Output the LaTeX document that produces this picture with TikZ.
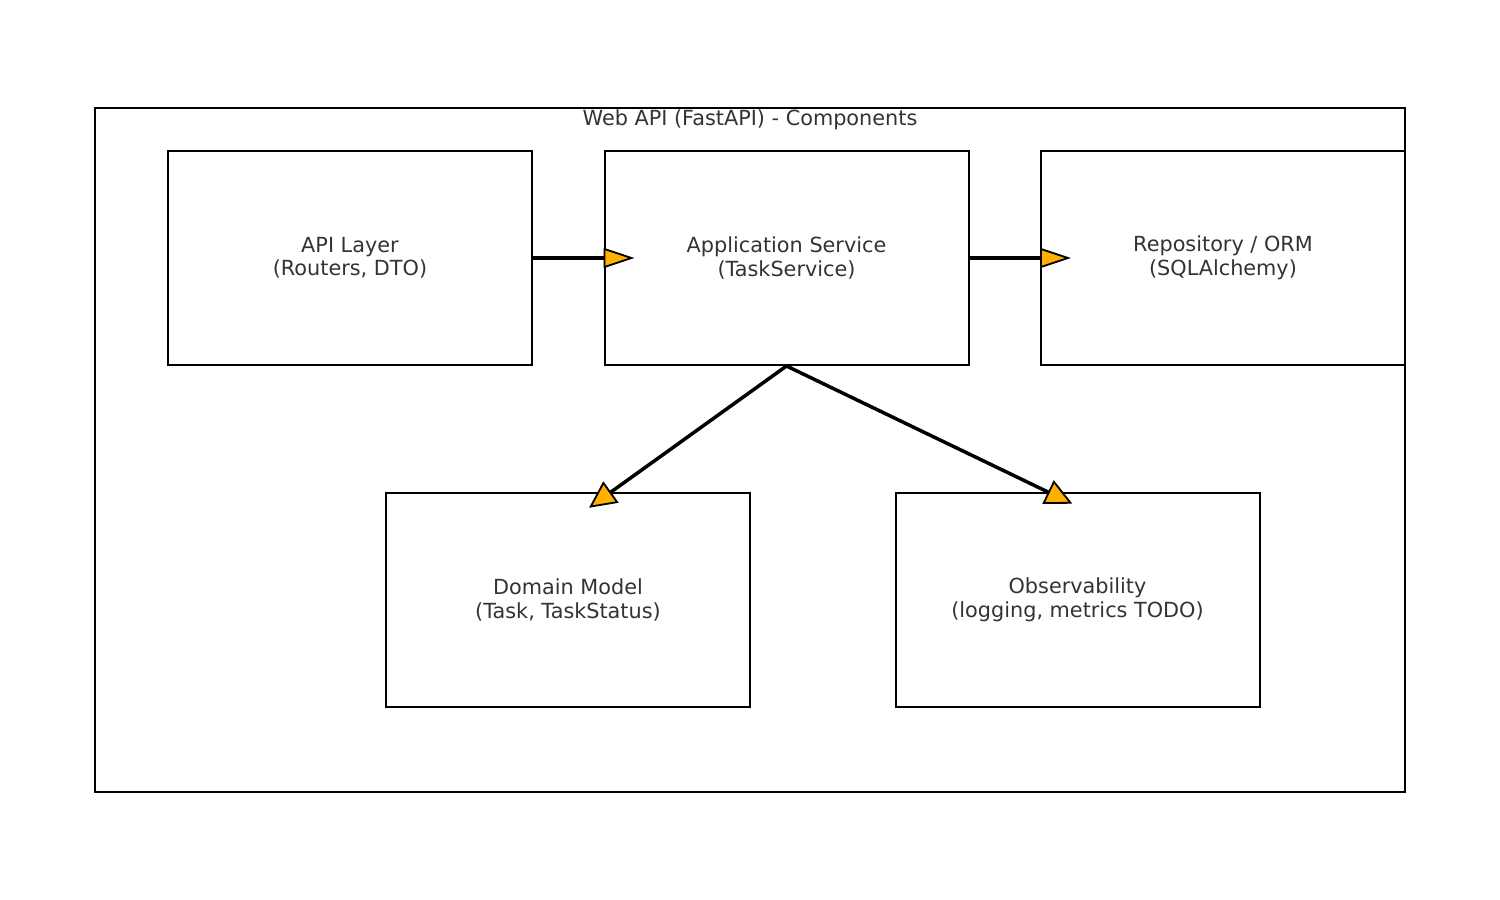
\documentclass[tikz,border=0pt]{standalone}
\usepackage{fontspec}
\setmainfont{DejaVu Sans}
\usetikzlibrary{arrows.meta,calc}
\definecolor{txt}{HTML}{333333}
\definecolor{headfill}{HTML}{FFB000}
\tikzset{
  comp/.style={draw=black, line width=2pt, minimum width=364pt, minimum height=214pt, inner sep=0pt, align=center, text=txt, font=\fontsize{20.8}{23.5}\selectfont},
  frame/.style={draw=black, line width=2pt, minimum width=1310pt, minimum height=684pt, inner sep=0pt},
  hflow/.style={line width=3.5pt, draw=black, -{Triangle[length=31pt,width=20pt,line width=1.8pt,fill=headfill]}, shorten >=-31pt},
  dflow/.style={line width=3.5pt, draw=black, -{Triangle[length=27pt,width=26pt,line width=1.8pt,fill=headfill]}, shorten >=-27pt},
}
\begin{document}
\begin{tikzpicture}[x=1pt,y=-1pt]
\useasboundingbox (0,0) rectangle (1500,900);
\node[frame] (frame) at (750,450) {};
\node[text=txt, font=\fontsize{20.8}{23.5}\selectfont] (title) at (750,120) {Web API (FastAPI) - Components};
\node[comp] (api) at (350,258) {API Layer\\(Routers, DTO)};
\node[comp] (app) at (786.5,258) {Application Service\\(TaskService)};
\node[comp] (repo) at (1223,258) {Repository / ORM\\(SQLAlchemy)};
\node[comp] (dom) at (568,600) {Domain Model\\(Task, TaskStatus)};
\node[comp] (obs) at (1077.5,600) {Observability\\(logging, metrics TODO)};
\coordinate (domin) at ([xshift=43pt]dom.north);
\coordinate (obsin) at ([xshift=-29.5pt]obs.north);
\draw[hflow] (api.east) -- (app.west);
\draw[hflow] (app.east) -- (repo.west);
\draw[dflow] (app.south) -- (domin);
\draw[dflow] (app.south) -- (obsin);
\end{tikzpicture}
\end{document}
